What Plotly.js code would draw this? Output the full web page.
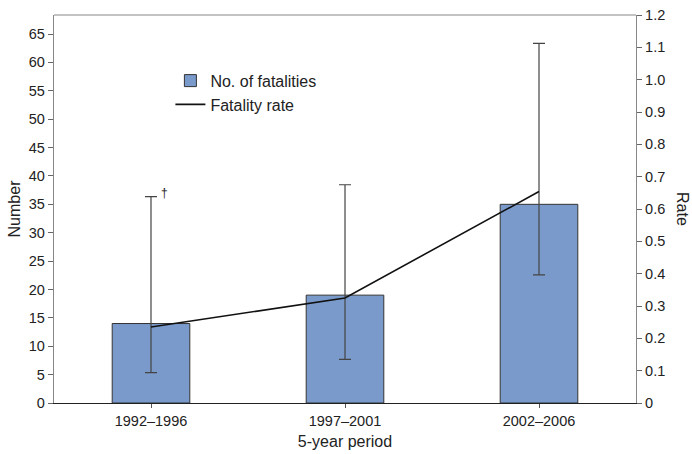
<!DOCTYPE html>
<html>
<head>
<meta charset="utf-8">
<script src="https://cdn.plot.ly/plotly-3.0.1.min.js"></script>
<style>html,body{margin:0;padding:0;background:#fff;}#chart{width:692px;height:454px;}</style>
</head>
<body>
<div id="chart"></div>
<script>
const periods = ['1992–1996', '1997–2001', '2002–2006'];
const fatalities = [14, 19, 35];
const fatalityRate = [0.235, 0.325, 0.654];
const rateLower = [0.094, 0.135, 0.396];
const rateUpper = [0.638, 0.675, 1.112];
const numberTicks = [0,5,10,15,20,25,30,35,40,45,50,55,60,65];
const rateTicks = [0,0.1,0.2,0.3,0.4,0.5,0.6,0.7,0.8,0.9,1.0,1.1,1.2];
const rateTickText = ['0','0.1','0.2','0.3','0.4','0.5','0.6','0.7','0.8','0.9','1.0','1.1','1.2'];

const FONT = 'Liberation Sans, Arial, sans-serif';
const TXT = '#222';

const traces = [
  {
    type: 'bar', name: 'No. of fatalities', x: periods, y: fatalities,
    width: 0.4,
    marker: {color: '#7a9acb', line: {color: '#333', width: 1}},
    yaxis: 'y', hoverinfo: 'skip'
  },
  {
    type: 'scatter', mode: 'lines', name: 'Fatality rate', x: periods, y: fatalityRate,
    line: {color: '#111', width: 1.6},
    yaxis: 'y2',
    error_y: {
      type: 'data', symmetric: false,
      array: rateUpper.map((u, i) => u - fatalityRate[i]),
      arrayminus: fatalityRate.map((r, i) => r - rateLower[i]),
      color: '#444', thickness: 1.2, width: 6
    }
  }
];

const layout = {
  width: 692, height: 454,
  margin: {l: 54, r: 56, t: 15, b: 51},
  paper_bgcolor: '#fff', plot_bgcolor: '#fff',
  font: {family: FONT, color: TXT, size: 14.5},
  showlegend: true,
  legend: {x: 0.2, y: 0.8745, xanchor: 'left', yanchor: 'top', bgcolor: 'rgba(0,0,0,0)',
           font: {size: 16, family: FONT, color: TXT}, tracegroupgap: 0},
  xaxis: {
    type: 'category', range: [-0.5, 2.5],
    showline: true, linecolor: '#222', linewidth: 1.2,
    ticks: 'outside', ticklen: 4, tickcolor: '#555',
    showgrid: false, zeroline: false,
    tickfont: {size: 14.5, family: FONT, color: TXT},
    title: {text: '5-year period', font: {size: 16, family: FONT, color: TXT}, standoff: 8}
  },
  yaxis: {
    range: [0, 68.35], tickvals: numberTicks,
    showline: true, linecolor: '#888', linewidth: 1.2,
    ticks: 'outside', ticklen: 5, tickcolor: '#666',
    showgrid: false, zeroline: false, automargin: false,
    tickfont: {size: 14.5, family: FONT, color: TXT},
    title: {text: 'Number', font: {size: 16, family: FONT, color: TXT}, standoff: 4}
  },
  yaxis2: {
    overlaying: 'y', side: 'right',
    range: [0, 1.2], tickvals: rateTicks, ticktext: rateTickText,
    showline: true, linecolor: '#888', linewidth: 1.2,
    ticks: 'outside', ticklen: 5, tickcolor: '#666',
    showgrid: false, zeroline: false, automargin: false,
    tickfont: {size: 14.5, family: FONT, color: TXT}
  },
  shapes: [
    {type: 'line', xref: 'paper', yref: 'paper', x0: 0, x1: 1, y0: 1, y1: 1,
     line: {color: '#888', width: 1.2}}
  ],
  annotations: [
    {text: 'Rate', xref: 'paper', yref: 'paper', x: 1, y: 0.5, xanchor: 'center', yanchor: 'middle',
     xshift: 47, textangle: 90, showarrow: false, font: {size: 16, family: FONT, color: TXT}},
    {text: '†', xref: 'x', yref: 'y2', x: periods[0], y: rateUpper[0], xshift: 13, yshift: 4,
     showarrow: false, font: {size: 12, family: FONT, color: TXT}}
  ]
};

Plotly.newPlot('chart', traces, layout, {displayModeBar: false, staticPlot: true});
</script>
</body>
</html>
